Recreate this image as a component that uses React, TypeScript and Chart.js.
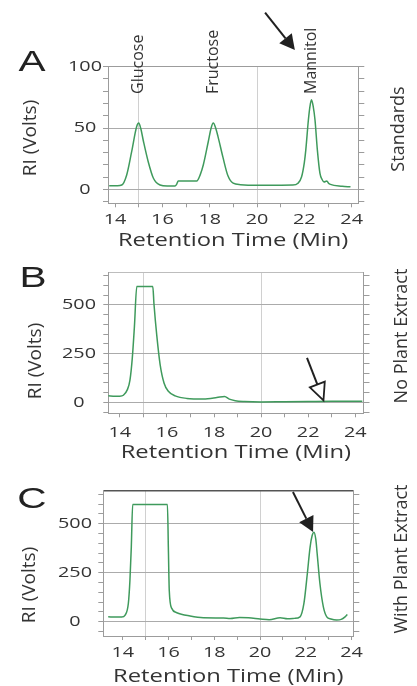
import React, { useEffect, useRef } from 'react';
import { Chart, registerables } from 'chart.js';

Chart.register(...registerables);

// ---------------- data ----------------
const X_TICKS = [14, 15, 16, 17, 18, 19, 20, 21, 22, 23, 24];
const X_TICK_LABELS = [14, 16, 18, 20, 22, 24];
const X_GRID_LINES = [15, 20];
const X_TITLE = 'Retention Time (Min)';
const Y_TITLE = 'RI (Volts)';

// Panel A - standards
const A_TIME = [13.75, 14.1, 14.28, 14.49, 14.7, 14.91, 15.0, 15.08, 15.2, 15.4, 15.62, 15.9, 16.2, 16.53, 16.6, 16.67, 17.0, 17.45, 17.6, 17.73, 17.94, 18.06, 18.15, 18.25, 18.35, 18.56, 18.77, 18.99, 19.3, 20.0, 21.0, 21.5, 21.73, 21.88, 22.0, 22.06, 22.17, 22.24, 22.3, 22.37, 22.45, 22.55, 22.66, 22.75, 22.83, 22.95, 23.02, 23.1, 23.6, 23.95];
const A_RI = [3, 3, 3.5, 11.7, 30.7, 51, 54, 50, 39, 22.5, 9, 3.5, 2.7, 2.7, 4, 6.8, 6.8, 6.8, 12, 20, 39, 50, 54, 50, 43, 26, 11, 5, 3.8, 3.3, 3.4, 3.5, 5, 10, 22, 32, 56.5, 68, 73, 68, 56.5, 32, 13, 8, 6, 6.8, 5, 4, 2.5, 2];
const A_Y_TICKS = [-10, 0, 10, 20, 30, 40, 50, 60, 70, 80, 90, 100];
const A_Y_LABELS = [0, 50, 100];
const A_PEAK_NAMES = ['Glucose', 'Fructose', 'Mannitol'];
const A_PEAK_TIMES = [15.0, 18.15, 22.3];

// Panel B - no plant extract
const B_TIME = [13.5, 13.8, 14.0, 14.15, 14.32, 14.43, 14.53, 14.62, 14.72, 15.0, 15.4, 15.45, 15.57, 15.71, 15.88, 16.06, 16.35, 16.84, 17.55, 18.12, 18.45, 18.65, 18.9, 19.3, 20.0, 21.0, 22.0, 23.0, 24.3];
const B_RI = [33, 31, 31, 36, 65, 114, 228, 390, 594, 594, 594, 505, 342, 195, 98, 57, 33, 20, 17, 24, 30, 16, 8, 4, 2, 3, 4, 5, 5];

// Panel C - with plant extract
const C_TIME = [13.36, 13.7, 13.95, 14.1, 14.24, 14.31, 14.37, 14.43, 15.0, 15.5, 15.95, 15.99, 16.03, 16.14, 16.36, 16.94, 17.52, 18.4, 18.7, 19.1, 19.5, 20.0, 20.4, 20.88, 21.2, 21.5, 21.75, 21.92, 22.07, 22.19, 22.28, 22.36, 22.44, 22.5, 22.62, 22.77, 22.92, 23.1, 23.35, 23.55, 23.72, 23.82];
const C_RI = [25, 24, 24, 34, 93, 212, 381, 598, 598, 598, 598, 381, 161, 68, 46, 29, 20, 19, 17, 22, 20, 14, 10, 20, 15, 17, 25, 93, 246, 381, 440, 457, 420, 347, 195, 76, 25, 14, 9, 12, 25, 37];

const BC_Y_TICKS = [-50, 0, 50, 100, 150, 200, 250, 300, 350, 400, 450, 500, 550, 600, 650];
const BC_Y_LABELS = [0, 250, 500];

const SIDE_LABELS = ['Standards', 'No Plant Extract', 'With Plant Extract'];
const PANEL_LETTERS = ['A', 'B', 'C'];

// arrows: [tail time, tail RI, tip time, tip RI]
const A_ARROW = [20.34, 144, 21.6, 113.6];
const B_ARROW = [21.95, 228, 22.65, 10];
const C_ARROW = [21.44, 662, 22.32, 458];

// ---------------- styles / layout ----------------
const W = 417;
const LINE_GREEN = '#3f9a5c';
const FRAME = '#9c9c9c';
const GRID_H = '#ababab';
const GRID_V = '#d0d0d0';
const TEXT = '#343434';
const SANS = '"Open Sans", "DejaVu Sans", sans-serif';
const STRETCH = 1.32;
const LETTER_STRETCH = 1.4;

type Layout = {
  top: number; h: number;
  area: { l: number; r: number; t: number; b: number };
  x: [number, number]; y: [number, number];
  yPad: number; xPad: number; titlePad: number;
  yTitle: [number, number]; side: [number, number]; letter: [number, number];
  topBorder: string; topBorderW: number; openArrow: boolean;
};

const LAYOUTS: Layout[] = [
  { top: 0, h: 252, area: { l: 108, r: 358.3, t: 66.7, b: 203.3 }, x: [13.7, 24.28], y: [-11.4, 100], yPad: 5.1, xPad: 3.7, titlePad: 0, yTitle: [31, 138], side: [399, 129], letter: [32, 61], topBorder: '#9c9c9c', topBorderW: 1, openArrow: false },
  { top: 252, h: 218, area: { l: 108.3, r: 363.5, t: 265, b: 413.3 }, x: [13.51, 24.35], y: [-56.6, 667], yPad: 11.4, xPad: 6.7, titlePad: 6.2, yTitle: [36, 361], side: [402, 336], letter: [33, 277], topBorder: '#bdbdbd', topBorderW: 1, openArrow: true },
  { top: 470, h: 218, area: { l: 103.3, r: 353.3, t: 490.5, b: 636 }, x: [13.145, 24.08], y: [-73, 670], yPad: 10.4, xPad: 4, titlePad: 0.7, yTitle: [30, 585], side: [402, 559], letter: [32, 498], topBorder: '#555555', topBorderW: 1.5, openArrow: false },
];

type Panel = {
  time: number[]; ri: number[]; yTicks: number[]; yLabels: number[];
  side: string; letter: string; arrow: number[];
  peakNames?: string[]; peakTimes?: number[]; layout: Layout;
};

const PANELS: Panel[] = [
  { time: A_TIME, ri: A_RI, yTicks: A_Y_TICKS, yLabels: A_Y_LABELS, side: SIDE_LABELS[0], letter: PANEL_LETTERS[0], arrow: A_ARROW, peakNames: A_PEAK_NAMES, peakTimes: A_PEAK_TIMES, layout: LAYOUTS[0] },
  { time: B_TIME, ri: B_RI, yTicks: BC_Y_TICKS, yLabels: BC_Y_LABELS, side: SIDE_LABELS[1], letter: PANEL_LETTERS[1], arrow: B_ARROW, layout: LAYOUTS[1] },
  { time: C_TIME, ri: C_RI, yTicks: BC_Y_TICKS, yLabels: BC_Y_LABELS, side: SIDE_LABELS[2], letter: PANEL_LETTERS[2], arrow: C_ARROW, layout: LAYOUTS[2] },
];

// horizontal text in the figure is visibly widened; emulate that on the canvas
function widenText(ctx: any) {
  if (ctx.__widened) return;
  ctx.__widened = true;
  const orig = ctx.fillText;
  ctx.fillText = function (text: string, x: number, y: number, maxWidth?: number) {
    const m = ctx.getTransform();
    if (Math.abs(m.b) > 1e-3 || ctx.__noStretch) {
      return maxWidth === undefined ? orig.call(ctx, text, x, y) : orig.call(ctx, text, x, y, maxWidth);
    }
    ctx.save();
    ctx.translate(x, y);
    ctx.scale(STRETCH, 1);
    if (maxWidth === undefined) orig.call(ctx, text, 0, 0);
    else orig.call(ctx, text, 0, 0, maxWidth / STRETCH);
    ctx.restore();
  };
}

function rotatedText(ctx: CanvasRenderingContext2D, text: string, x: number, y: number, font: string, align: CanvasTextAlign) {
  ctx.save();
  ctx.translate(x, y);
  ctx.rotate(-Math.PI / 2);
  ctx.font = font;
  ctx.textAlign = align;
  ctx.textBaseline = 'middle';
  ctx.fillText(text, 0, 0);
  ctx.restore();
}

function drawArrow(ctx: CanvasRenderingContext2D, x1: number, y1: number, x2: number, y2: number, headLen: number, headHalf: number, open: boolean) {
  const ang = Math.atan2(y2 - y1, x2 - x1);
  const bx = x2 - headLen * Math.cos(ang);
  const by = y2 - headLen * Math.sin(ang);
  const px = -Math.sin(ang) * headHalf;
  const py = Math.cos(ang) * headHalf;
  ctx.save();
  ctx.strokeStyle = '#202020';
  ctx.fillStyle = '#202020';
  ctx.lineWidth = 2;
  ctx.beginPath();
  ctx.moveTo(x1, y1);
  ctx.lineTo(bx, by);
  ctx.stroke();
  ctx.beginPath();
  ctx.moveTo(x2, y2);
  ctx.lineTo(bx + px, by + py);
  ctx.lineTo(bx - px, by - py);
  ctx.closePath();
  if (open) {
    ctx.fillStyle = '#ffffff';
    ctx.fill();
    ctx.lineWidth = 1.8;
    ctx.stroke();
  } else {
    ctx.fill();
  }
  ctx.restore();
}

function annotationPlugin(p: Panel) {
  return {
    id: 'annot' + p.letter,
    afterDraw(chart: any) {
      const ctx: CanvasRenderingContext2D = chart.ctx;
      const L = p.layout;
      const off = L.top;
      const xs = chart.scales.x;
      const ys = chart.scales.y;
      ctx.save();
      ctx.fillStyle = TEXT;
      rotatedText(ctx, Y_TITLE, L.yTitle[0], L.yTitle[1] - off, `19px ${SANS}`, 'center');
      rotatedText(ctx, p.side, L.side[0], L.side[1] - off, `18px ${SANS}`, 'center');
      if (p.peakNames && p.peakTimes) {
        p.peakNames.forEach((n, i) => {
          rotatedText(ctx, n, xs.getPixelForValue(p.peakTimes![i]), 94 - off, `16px ${SANS}`, 'left');
        });
      }
      // panel letter
      const anyCtx = ctx as any;
      anyCtx.__noStretch = true;
      ctx.save();
      ctx.translate(L.letter[0], L.letter[1] - off);
      ctx.scale(LETTER_STRETCH, 1);
      ctx.font = '29px "Liberation Sans", Arial, sans-serif';
      ctx.textAlign = 'center';
      ctx.textBaseline = 'alphabetic';
      ctx.fillStyle = '#222222';
      ctx.fillText(p.letter, 0, 29 * 0.716 / 2);
      ctx.restore();
      anyCtx.__noStretch = false;
      const [t1, v1, t2, v2] = p.arrow;
      drawArrow(ctx, xs.getPixelForValue(t1), ys.getPixelForValue(v1), xs.getPixelForValue(t2), ys.getPixelForValue(v2), L.openArrow ? 17 : 15, 8, L.openArrow);
      ctx.restore();
    },
  };
}

function makeConfig(p: Panel): any {
  const L = p.layout;
  const area = { left: L.area.l, right: L.area.r, top: L.area.t - L.top, bottom: L.area.b - L.top };
  const tickFont = { family: SANS, size: 15 };
  const setYTicks = (ax: any) => { ax.ticks = p.yTicks.map((v) => ({ value: v })); };
  return {
    type: 'line',
    data: {
      datasets: [{
        data: p.time.map((t, i) => ({ x: t, y: p.ri[i] })),
        borderColor: LINE_GREEN,
        borderWidth: 1.5,
        pointRadius: 0,
        fill: false,
        cubicInterpolationMode: 'monotone',
        xAxisID: 'x',
        yAxisID: 'y',
      }],
    },
    options: {
      animation: false,
      responsive: false,
      maintainAspectRatio: false,
      devicePixelRatio: 1,
      events: [],
      layout: { padding: 0 },
      plugins: { legend: { display: false }, tooltip: { enabled: false } },
      scales: {
        x: {
          type: 'linear', position: 'bottom', min: L.x[0], max: L.x[1],
          afterBuildTicks: (ax: any) => { ax.ticks = X_TICKS.map((v) => ({ value: v })); },
          afterFit: (ax: any) => { ax.height = L.h - area.bottom; },
          ticks: {
            autoSkip: false, maxRotation: 0, minRotation: 0, padding: L.xPad, color: TEXT, font: tickFont,
            callback: (v: number) => (X_TICK_LABELS.includes(v) ? String(v) : ''),
          },
          grid: {
            color: (c: any) => (c.tick && X_GRID_LINES.includes(c.tick.value) ? GRID_V : 'rgba(0,0,0,0)'),
            tickColor: FRAME, tickLength: 4, lineWidth: 1, drawTicks: true,
          },
          border: { display: true, color: FRAME, width: 1 },
          title: { display: true, text: X_TITLE, color: TEXT, font: { family: SANS, size: 18 }, padding: { top: 0, bottom: L.titlePad } },
        },
        x2: {
          type: 'linear', position: 'top', min: L.x[0], max: L.x[1],
          afterFit: (ax: any) => { ax.height = area.top; },
          ticks: { display: false },
          grid: { drawOnChartArea: false, drawTicks: false },
          border: { display: true, color: L.topBorder, width: L.topBorderW },
        },
        y: {
          type: 'linear', position: 'left', min: L.y[0], max: L.y[1],
          afterBuildTicks: setYTicks,
          afterFit: (ax: any) => { ax.width = area.left; },
          ticks: {
            autoSkip: false, padding: L.yPad, crossAlign: 'center', color: TEXT, font: tickFont,
            callback: (v: number) => (p.yLabels.includes(v) ? String(v) : ''),
          },
          grid: {
            color: (c: any) => (c.tick && p.yLabels.includes(c.tick.value) ? GRID_H : 'rgba(0,0,0,0)'),
            tickColor: FRAME, tickLength: 5, lineWidth: 1,
          },
          border: { display: true, color: FRAME, width: 1 },
        },
        y2: {
          type: 'linear', position: 'right', min: L.y[0], max: L.y[1],
          afterBuildTicks: setYTicks,
          afterFit: (ax: any) => { ax.width = W - area.right; },
          ticks: { display: false },
          grid: { drawOnChartArea: false, tickColor: FRAME, tickLength: 6 },
          border: { display: true, color: FRAME, width: 1 },
        },
      },
    },
    plugins: [annotationPlugin(p)],
  };
}

function PanelChart({ panel }: { panel: Panel }) {
  const ref = useRef<HTMLCanvasElement>(null);
  useEffect(() => {
    const canvas = ref.current!;
    const ctx = canvas.getContext('2d')!;
    widenText(ctx);
    const chart = new Chart(ctx, makeConfig(panel));
    return () => chart.destroy();
  }, [panel]);
  const L = panel.layout;
  return (
    <canvas
      ref={ref}
      width={W}
      height={L.h}
      style={{ position: 'absolute', left: 0, top: L.top, width: W, height: L.h, display: 'block' }}
    />
  );
}

export default function App() {
  return (
    <div style={{ position: 'fixed', left: 0, top: 0, width: W, height: 686, overflow: 'hidden', background: '#ffffff' }}>
      {PANELS.map((p) => (
        <PanelChart key={p.letter} panel={p} />
      ))}
    </div>
  );
}
